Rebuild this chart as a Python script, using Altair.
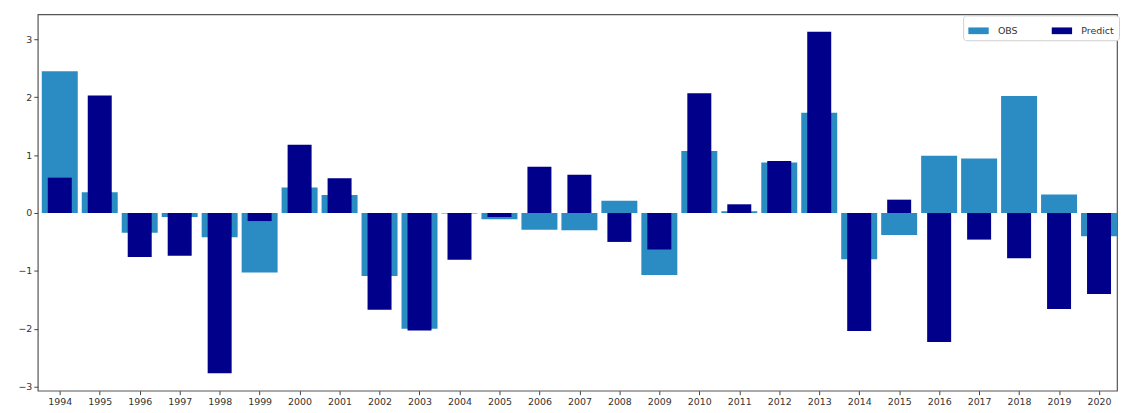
import altair as alt
import pandas as pd

years = list(range(1994, 2021))
obs = [2.45, 0.36, -0.34, -0.07, -0.42, -1.03, 0.44, 0.31, -1.09, -2.00,
       -0.01, -0.11, -0.29, -0.30, 0.21, -1.07, 1.07, 0.03, 0.87, 1.73,
       -0.80, -0.38, 0.99, 0.94, 2.02, 0.32, -0.40]
predict = [0.61, 2.03, -0.76, -0.74, -2.77, -0.14, 1.18, 0.60, -1.67, -2.03,
           -0.81, -0.07, 0.80, 0.66, -0.50, -0.63, 2.07, 0.15, 0.90, 3.13,
           -2.04, 0.23, -2.23, -0.46, -0.78, -1.66, -1.40]
series = ["OBS", "Predict"]
bar_width = [0.9, 0.6]
colors = ["#2b8cc4", "#00008b"]

rows = []
for s, w, vals in zip(series, bar_width, [obs, predict]):
    for y, v in zip(years, vals):
        rows.append({"year": y, "series": s, "value": v, "w": w})
df = pd.DataFrame(rows)

rect_path = "M-1,-0.33L1,-0.33L1,0.33L-1,0.33Z"

chart = alt.Chart(df).mark_bar().transform_calculate(
    x1="datum.year - datum.w / 2",
    x2="datum.year + datum.w / 2",
).encode(
    x=alt.X("x1:Q",
            scale=alt.Scale(domain=[1993.45, 2020.45], nice=False, zero=False),
            axis=alt.Axis(values=years, format="d", title=None, grid=False,
                          domain=False, tickSize=4, tickColor="#444",
                          labelFontSize=9.5, labelColor="#333", labelPadding=2,
                          labelFont="DejaVu Sans")),
    x2="x2:Q",
    y=alt.Y("value:Q",
            scale=alt.Scale(domain=[-3.07, 3.43], nice=False, zero=False),
            axis=alt.Axis(values=[-3, -2, -1, 0, 1, 2, 3], format="d", title=None,
                          grid=False, domain=False, tickSize=4, tickColor="#444",
                          labelFontSize=9.5, labelColor="#333", labelPadding=2,
                          labelFont="DejaVu Sans")),
    y2=alt.datum(0),
    color=alt.Color("series:N",
                    scale=alt.Scale(domain=series, range=colors),
                    legend=alt.Legend(title=None, orient="none", legendX=932, legendY=1,
                                      direction="horizontal", columns=2,
                                      columnPadding=34, symbolType=rect_path,
                                      symbolSize=420, symbolStrokeWidth=0,
                                      labelFontSize=9.5, labelColor="#333",
                                      labelFont="DejaVu Sans",
                                      fillColor="white", strokeColor="#d0d0d0",
                                      cornerRadius=3, padding=5, labelOffset=9)),
    order=alt.Order("series:N"),
).properties(
    width=1087, height=379,
    autosize=alt.AutoSizeParams(type="none"),
    padding={"left": 30, "top": 5, "right": 3, "bottom": 21},
).configure_view(
    stroke="#555", strokeWidth=1.2
)

chart.save("out.html", embed_options={"renderer": "svg", "actions": False})
